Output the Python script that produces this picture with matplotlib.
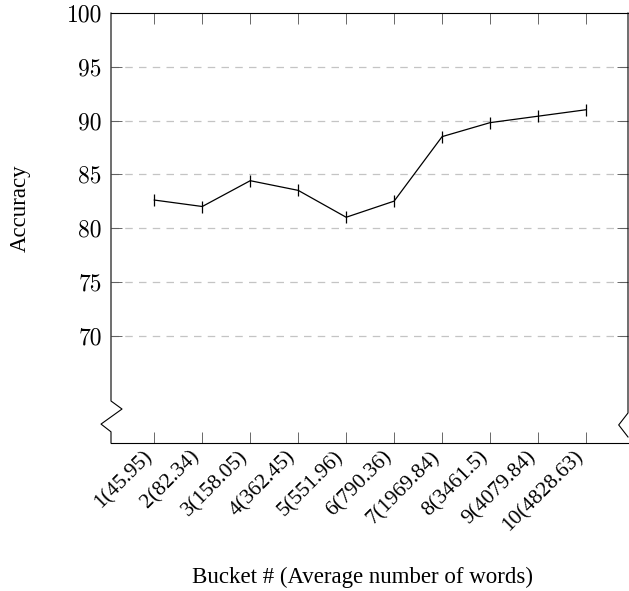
import matplotlib
matplotlib.use("Agg")
import matplotlib.pyplot as plt
from matplotlib.ticker import FixedLocator
from matplotlib.transforms import ScaledTranslation

buckets = ["1(45.95)", "2(82.34)", "3(158.05)", "4(362.45)", "5(551.96)",
           "6(790.36)", "7(1969.84)", "8(3461.5)", "9(4079.84)", "10(4828.63)"]
positions = list(range(1, 11))
accuracy = [82.6, 82.0, 84.4, 83.5, 81.0, 82.5, 88.5, 89.8, 90.4, 91.0]
y_ticks = [70, 75, 80, 85, 90, 95, 100]

serif = "Liberation Serif"
fs = 16.5

fig = plt.figure(figsize=(6.29, 5.91), dpi=100)
ax = fig.add_axes([111 / 629, 148 / 591, 517 / 629, 430 / 591])

ax.plot(positions, accuracy, color="black", lw=0.9, marker="|", ms=8, mew=0.9)

ax.set_xlim(0.097, 10.876)
ax.set_ylim(60, 100)

# y grid at the tick values (not at the top)
for v in y_ticks[:-1]:
    ax.axhline(v, color="#c4c4c4", lw=0.9, dashes=(6, 5), zorder=0)

ax.tick_params(axis="both", direction="in", length=7.7, width=0.6,
               color="#505050", top=True, right=True)
ax.tick_params(axis="y", pad=6.5)
ax.tick_params(axis="x", pad=3)

ax.yaxis.set_major_locator(FixedLocator(y_ticks))
ax.set_yticklabels([str(v) for v in y_ticks], fontfamily="cmr10", fontsize=17)
ax.set_xticks(positions)
ax.set_xticklabels(buckets, rotation=45, ha="right", va="top",
                   rotation_mode="anchor", fontfamily=serif, fontsize=15.5)

# spines: left and right drawn by hand with the axis-break zigzag
ax.spines["left"].set_visible(False)
ax.spines["right"].set_visible(False)
for s in ("top", "bottom"):
    ax.spines[s].set_linewidth(0.8)

lx = [0, 0, 0.0213, -0.0193, 0, 0]
ly = [1, 0.0977, 0.079, 0.044, 0.026, 0]
ax.plot(lx, ly, color="black", lw=0.8, transform=ax.transAxes, clip_on=False)
rx = [1, 1, 0.982, 1]
ry = [1, 0.0698, 0.042, 0.014]
ax.plot(rx, ry, color="black", lw=0.8, transform=ax.transAxes, clip_on=False)

ax.set_ylabel("Accuracy", fontfamily=serif, fontsize=fs)
ax.yaxis.set_label_coords(-0.155, 0.547)
ax.set_xlabel("Bucket # (Average number of words)", fontfamily=serif,
              fontsize=fs)
ax.xaxis.set_label_coords(0.487, -0.288)

# pull the rotated labels a bit to the left, like the pgfplots anchor
# (done last so tick_params does not reset the transforms)
shift = ScaledTranslation(-12 / 100, 0, fig.dpi_scale_trans)
for lab in ax.get_xticklabels():
    lab.set_transform(lab.get_transform() + shift)

fig.savefig("out.png", dpi=100)
